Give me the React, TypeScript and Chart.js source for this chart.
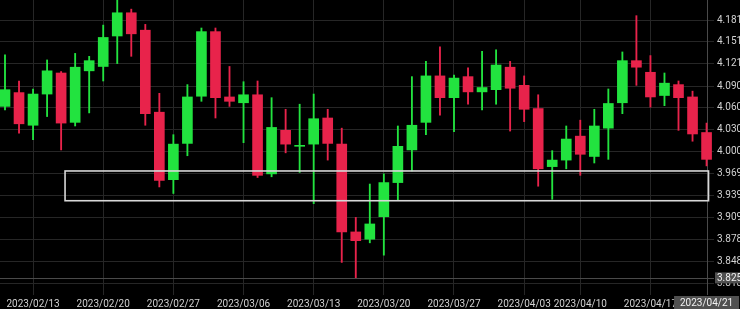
import React, { useEffect, useRef } from 'react';
import { Chart, registerables } from 'chart.js';

Chart.register(...registerables);

const dates = [
  '2023/02/09', '2023/02/10',
  '2023/02/13', '2023/02/14', '2023/02/15', '2023/02/16', '2023/02/17',
  '2023/02/20', '2023/02/21', '2023/02/22', '2023/02/23', '2023/02/24',
  '2023/02/27', '2023/02/28', '2023/03/01', '2023/03/02', '2023/03/03',
  '2023/03/06', '2023/03/07', '2023/03/08', '2023/03/09', '2023/03/10',
  '2023/03/13', '2023/03/14', '2023/03/15', '2023/03/16', '2023/03/17',
  '2023/03/20', '2023/03/21', '2023/03/22', '2023/03/23', '2023/03/24',
  '2023/03/27', '2023/03/28', '2023/03/29', '2023/03/30', '2023/03/31',
  '2023/04/03', '2023/04/04', '2023/04/05', '2023/04/06',
  '2023/04/10', '2023/04/11', '2023/04/12', '2023/04/13', '2023/04/14',
  '2023/04/17', '2023/04/18', '2023/04/19', '2023/04/20', '2023/04/21',
];

const opens = [
  4.062, 4.081,
  4.036, 4.079, 4.108, 4.040, 4.111,
  4.117, 4.159, 4.191, 4.167, 4.054,
  3.961, 4.011, 4.076, 4.165, 4.075,
  4.067, 4.078, 3.969, 4.029, 4.007,
  4.010, 4.046, 4.010, 3.889, 3.879,
  3.910, 3.957, 4.002, 4.040, 4.104,
  4.074, 4.103, 4.082, 4.085, 4.116,
  4.091, 4.059, 3.979, 3.988,
  4.021, 3.993, 4.032, 4.067, 4.125,
  4.109, 4.077, 4.092, 4.075, 4.026,
];

const highs = [
  4.133, 4.097,
  4.086, 4.126, 4.110, 4.135, 4.131,
  4.174, 4.215, 4.196, 4.175, 4.080,
  4.023, 4.092, 4.170, 4.170, 4.117,
  4.096, 4.097, 4.074, 4.058, 4.065,
  4.079, 4.058, 4.032, 3.909, 3.955,
  3.969, 4.035, 4.103, 4.124, 4.144,
  4.105, 4.115, 4.138, 4.140, 4.124,
  4.104, 4.078, 4.001, 4.035,
  4.043, 4.058, 4.086, 4.137, 4.187,
  4.132, 4.108, 4.097, 4.083, 4.039,
];

const lows = [
  4.057, 4.025,
  4.016, 4.048, 4.002, 4.035, 4.053,
  4.097, 4.121, 4.131, 4.036, 3.951,
  3.942, 3.994, 4.069, 4.046, 4.062,
  4.012, 3.964, 3.965, 3.998, 3.971,
  3.928, 3.988, 3.847, 3.826, 3.874,
  3.857, 3.933, 3.973, 4.023, 4.050,
  4.027, 4.065, 4.057, 4.065, 4.028,
  4.041, 3.952, 3.934, 3.976,
  3.967, 3.984, 3.989, 4.052, 4.091,
  4.061, 4.063, 4.029, 4.014, 3.980,
];

const closes = [
  4.085, 4.038,
  4.079, 4.111, 4.039, 4.116, 4.125,
  4.157, 4.191, 4.162, 4.052, 3.960,
  4.010, 4.075, 4.165, 4.074, 4.069,
  4.078, 3.967, 4.033, 4.010, 4.008,
  4.045, 4.011, 3.889, 3.877, 3.900,
  3.957, 4.007, 4.036, 4.104, 4.074,
  4.101, 4.082, 4.088, 4.119, 4.087,
  4.058, 3.976, 3.988, 4.017,
  3.996, 4.035, 4.066, 4.125, 4.116,
  4.075, 4.094, 4.074, 4.024, 3.989,
];

const weekStartLabels = [
  '2023/02/13', '2023/02/20', '2023/02/27', '2023/03/06', '2023/03/13',
  '2023/03/20', '2023/03/27', '2023/04/03', '2023/04/10', '2023/04/17',
];

const priceTickValues = [
  3.818, 3.848, 3.878, 3.909, 3.939, 3.969, 4.000, 4.030,
  4.060, 4.090, 4.121, 4.151, 4.181,
];
const clippedTopTick = 4.212;

// Zone rectangle (in data coordinates)
const zoneTop = 3.973;
const zoneBottom = 3.932;
const zoneStartIndex = 4.28;
const zoneEndIndex = 50.14;

const crosshairPrice = 3.825;
const crosshairDate = '2023/04/21';

const GREEN = '#22e33f';
const RED = '#e8234b';
const GRID = '#262626';
const TEXT = '#d2d2d2';
const FONT = 'Roboto, "Noto Sans", sans-serif';

export default function App() {
  const ref = useRef<HTMLCanvasElement>(null);

  useEffect(() => {
    document.body.style.margin = '0';
    document.body.style.background = '#000';
    const idx = dates.map((_, i) => i);
    const colors = idx.map((i) => (closes[i] >= opens[i] ? GREEN : RED));
    const weekIdx = weekStartLabels.map((d) => dates.indexOf(d));
    const lastIdx = dates.indexOf(crosshairDate);

    const overlay = {
      id: 'overlay',
      beforeDraw(c: any) {
        const ctx = c.ctx;
        ctx.save();
        ctx.fillStyle = '#000';
        ctx.fillRect(0, 0, c.width, c.height);
        ctx.restore();
      },
      beforeDatasetsDraw(c: any) {
        const ctx = c.ctx;
        const xs = c.scales.x;
        const ys = c.scales.y;
        const a = c.chartArea;
        const px = Math.round(xs.getPixelForValue(lastIdx)) + 0.5;
        const py = Math.round(ys.getPixelForValue(crosshairPrice)) + 0.5;
        ctx.save();
        ctx.strokeStyle = '#4a4a4a';
        ctx.lineWidth = 1;
        ctx.beginPath();
        ctx.moveTo(px, 0);
        ctx.lineTo(px, a.bottom);
        ctx.moveTo(a.left, py);
        ctx.lineTo(a.right, py);
        ctx.stroke();
        ctx.restore();
      },
      afterDraw(c: any) {
        const ctx = c.ctx;
        const xs = c.scales.x;
        const ys = c.scales.y;
        const a = c.chartArea;
        ctx.save();
        // zone rectangle
        const x1 = xs.getPixelForValue(zoneStartIndex);
        const x2 = xs.getPixelForValue(zoneEndIndex);
        const y1 = ys.getPixelForValue(zoneTop);
        const y2 = ys.getPixelForValue(zoneBottom);
        ctx.strokeStyle = '#d8d8d8';
        ctx.lineWidth = 1.6;
        ctx.strokeRect(x1, y1, x2 - x1, y2 - y1);

        ctx.font = '10px ' + FONT;
        ctx.textBaseline = 'middle';
        // partially visible top tick label
        ctx.fillStyle = TEXT;
        ctx.textAlign = 'left';
        ctx.fillText(clippedTopTick.toFixed(3), a.right + 3, ys.getPixelForValue(clippedTopTick));

        // price tag
        const py = ys.getPixelForValue(crosshairPrice);
        ctx.fillStyle = '#505050';
        ctx.fillRect(a.right + 1, py - 6, c.width - a.right - 1, 11);
        ctx.fillStyle = '#f0f0f0';
        ctx.fillText(crosshairPrice.toFixed(3), a.right + 3, py);

        // date tag
        const dx = xs.getPixelForValue(lastIdx);
        const w = 65;
        ctx.fillStyle = '#505050';
        ctx.fillRect(dx - w / 2, a.bottom + 1, w, c.height - a.bottom - 1);
        ctx.fillStyle = '#f0f0f0';
        ctx.textAlign = 'center';
        ctx.fillText(crosshairDate, dx, a.bottom + 8);
        ctx.restore();
      },
    };

    const chart = new Chart(ref.current as HTMLCanvasElement, {
      type: 'bar',
      data: {
        datasets: [
          {
            label: 'body',
            data: idx.map((i) => ({ x: i, y: [opens[i], closes[i]] })) as any,
            backgroundColor: colors,
            barThickness: 10,
            grouped: false,
            minBarLength: 1,
            borderWidth: 0,
          } as any,
          {
            label: 'wick',
            data: idx.map((i) => ({ x: i, y: [lows[i], highs[i]] })) as any,
            backgroundColor: colors,
            barThickness: 1.2,
            grouped: false,
            borderWidth: 0,
          } as any,
        ],
      },
      options: {
        animation: false,
        responsive: false,
        maintainAspectRatio: false,
        layout: { padding: 0 },
        plugins: {
          legend: { display: false },
          tooltip: { enabled: false },
        },
        scales: {
          x: {
            type: 'linear',
            min: -0.356,
            max: 50.53,
            offset: false,
            grid: { color: GRID, offset: false, drawTicks: false, lineWidth: 1 },
            border: { display: false },
            afterBuildTicks: (s: any) => {
              s.ticks = weekIdx.map((v) => ({ value: v }));
            },
            afterFit: (s: any) => {
              s.height = 14;
              s.paddingLeft = 0;
              s.paddingRight = 0;
              s.paddingTop = 0;
              s.paddingBottom = 0;
            },
            ticks: {
              autoSkip: false,
              maxRotation: 0,
              padding: 3,
              color: TEXT,
              font: { size: 10, family: FONT },
              callback: (v: any) => dates[Math.round(Number(v))] ?? '',
            },
          } as any,
          y: {
            type: 'linear',
            position: 'right',
            min: 3.8021,
            max: 4.2086,
            grid: { color: GRID, drawTicks: false, lineWidth: 1 },
            border: { display: false },
            afterBuildTicks: (s: any) => {
              s.ticks = priceTickValues.map((v) => ({ value: v }));
            },
            afterFit: (s: any) => {
              s.width = 26;
              s.paddingTop = 0;
              s.paddingBottom = 0;
              s.paddingLeft = 0;
              s.paddingRight = 0;
            },
            ticks: {
              padding: 3,
              color: TEXT,
              font: { size: 10, family: FONT },
              callback: (v: any) => Number(v).toFixed(3),
            },
          } as any,
        },
      },
      plugins: [overlay],
    });
    return () => chart.destroy();
  }, []);

  return (
    <canvas ref={ref} width={740} height={309} style={{ display: 'block', width: 740, height: 309 }} />
  );
}
